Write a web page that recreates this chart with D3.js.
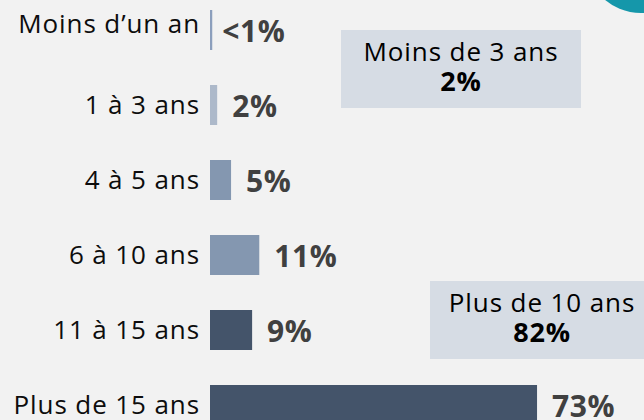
<!DOCTYPE html>
<html>
<head>
<meta charset="utf-8">
<script src="https://cdn.jsdelivr.net/npm/d3@7"></script>
<style>
  html, body { margin: 0; padding: 0; background: #f2f2f2; }
  svg { display: block; }
  text { font-family: "Open Sans", "Noto Sans", sans-serif; }
</style>
</head>
<body>
<svg id="chart" width="644" height="420"></svg>
<script>
// ---- data ----
const categories = ["Moins d\u2019un an", "1 à 3 ans", "4 à 5 ans", "6 à 10 ans", "11 à 15 ans", "Plus de 15 ans"];
const values = [0.5, 1.6, 4.7, 11, 9.4, 73];
const valueLabels = ["<1%", "2%", "5%", "11%", "9%", "73%"];
const groups = ["court", "court", "moyen", "moyen", "long", "long"];
const summaryTitles = ["Moins de 3 ans", "Plus de 10 ans"];
const summaryValues = ["2%", "82%"];

// ---- drawing ----
const W = 644, H = 420;
const svg = d3.select("#chart");
svg.append("rect").attr("width", W).attr("height", H).attr("fill", "#f2f2f2");

const x = d3.scaleLinear().domain([0, 100]).range([210, 658]);
const y = d3.scalePoint().domain(categories).range([30, 405]);
const color = d3.scaleOrdinal().domain(["court", "moyen", "long"]).range(["#adb9ca", "#8497b0", "#44546a"]);
const barH = 40;

// teal decoration top-right
svg.append("circle").attr("cx", 641).attr("cy", -43).attr("r", 56).attr("fill", "#1597aa");

const rows = svg.append("g").selectAll("g").data(categories).join("g");

rows.append("rect")
  .attr("x", x(0))
  .attr("y", d => y(d) - barH / 2)
  .attr("width", (d, i) => Math.max(2, x(values[i]) - x(0)))
  .attr("height", barH)
  .attr("fill", (d, i) => i === 0 ? "#8c9fbd" : color(groups[i]));

rows.append("text")
  .attr("x", 200)
  .attr("y", (d, i) => y(d) + (i === 0 ? 3 : 9))
  .attr("text-anchor", "end")
  .attr("font-size", 26)
  .attr("letter-spacing", 0.9)
  .attr("fill", "#0d0d0d")
  .text(d => d);

rows.append("text")
  .attr("x", (d, i) => Math.max(x(0) + 2, x(values[i])) + (i === 0 ? 10 : 15))
  .attr("y", d => y(d) + 12)
  .attr("font-size", 30)
  .attr("font-weight", 700)
  .attr("letter-spacing", 0.6)
  .attr("fill", "#404040")
  .text((d, i) => valueLabels[i]);

// summary boxes
const boxes = [
  { x: 341, y: 30, w: 240, h: 78 },
  { x: 430, y: 281, w: 220, h: 78 }
];
boxes.forEach((b, i) => {
  const g = svg.append("g");
  g.append("rect").attr("x", b.x).attr("y", b.y).attr("width", b.w).attr("height", b.h).attr("fill", "#d6dce4");
  const cx = i === 0 ? b.x + b.w / 2 : 542;
  g.append("text").attr("x", cx).attr("y", b.y + 31).attr("text-anchor", "middle")
    .attr("font-size", 26).attr("letter-spacing", 0.9).attr("fill", "#000").text(summaryTitles[i]);
  g.append("text").attr("x", cx).attr("y", b.y + 61).attr("text-anchor", "middle")
    .attr("font-size", 27).attr("font-weight", 700).attr("letter-spacing", 0.8).attr("fill", "#000").text(summaryValues[i]);
});
</script>
</body>
</html>
